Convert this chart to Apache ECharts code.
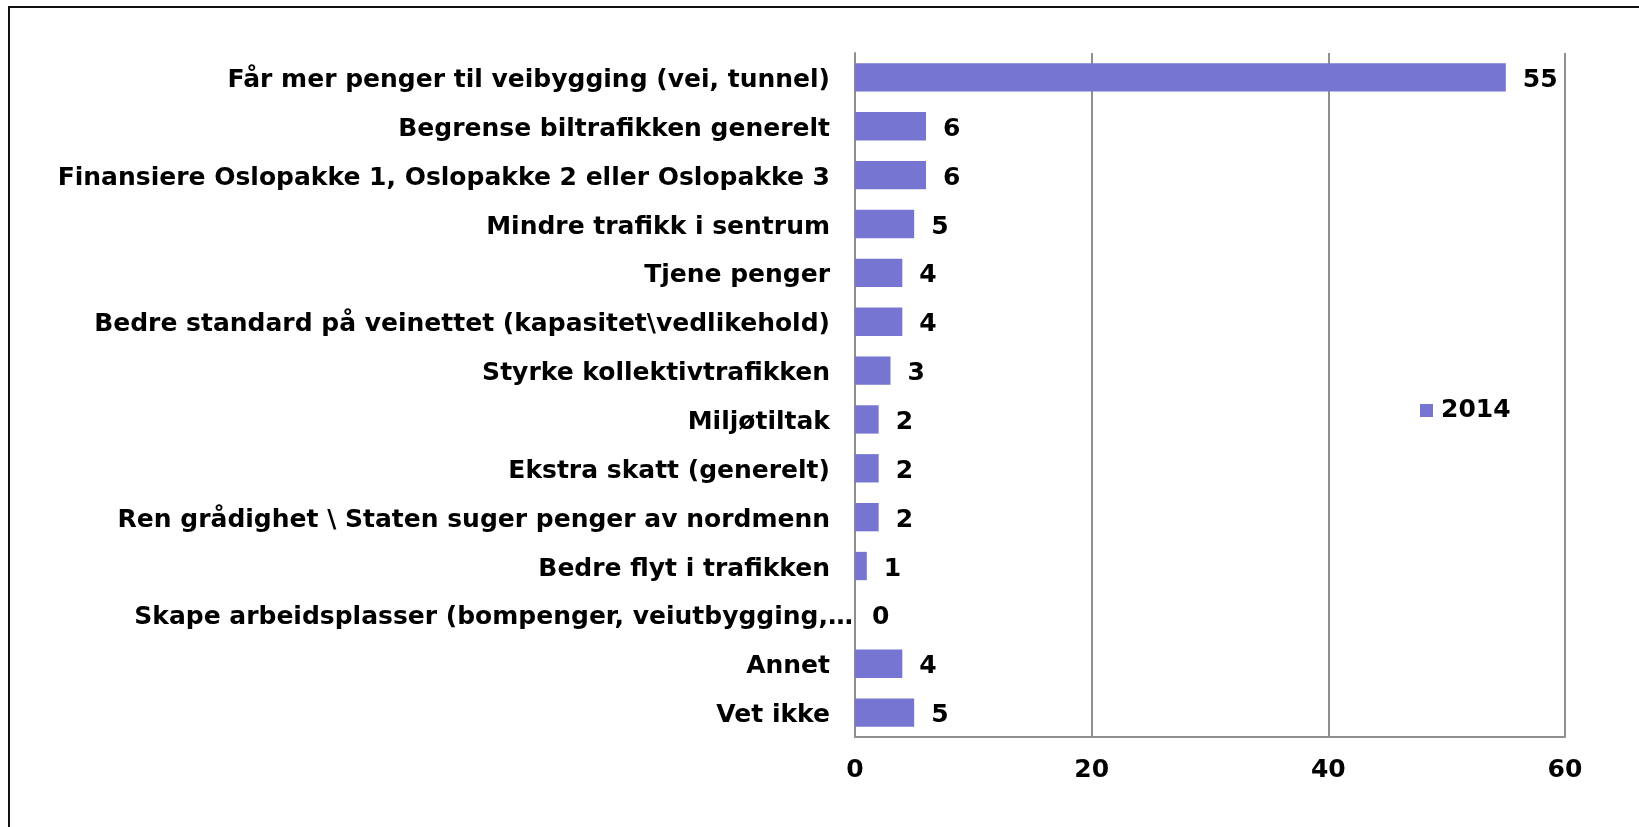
<!DOCTYPE html>
<html>
<head>
<meta charset="utf-8">
<script src="https://cdn.jsdelivr.net/npm/echarts@6/dist/echarts.min.js"></script>
<style>
html,body{margin:0;padding:0;background:#fff;}
#chart{width:1639px;height:827px;}
</style>
</head>
<body>
<div id="chart"></div>
<script>
const categories = [
  "Får mer penger til veibygging (vei, tunnel)",
  "Begrense biltrafikken generelt",
  "Finansiere Oslopakke 1, Oslopakke 2 eller Oslopakke 3",
  "Mindre trafikk i sentrum",
  "Tjene penger",
  "Bedre standard på veinettet (kapasitet\\vedlikehold)",
  "Styrke kollektivtrafikken",
  "Miljøtiltak",
  "Ekstra skatt (generelt)",
  "Ren grådighet \\ Staten suger penger av nordmenn",
  "Bedre flyt i trafikken",
  "Skape arbeidsplasser (bompenger, veiutbygging,…",
  "Annet",
  "Vet ikke"
];
const values2014 = [55, 6, 6, 5, 4, 4, 3, 2, 2, 2, 1, 0, 4, 5];
const seriesName = "2014";
const xTicks = [0, 20, 40, 60];
const truncatedLabel = "Skape arbeidsplasser (bompenger, veiutbygging,…";

const FONT = '"DejaVu Sans", Verdana, sans-serif';
const chart = echarts.init(document.getElementById('chart'));
chart.setOption({
  animation: false,
  backgroundColor: '#ffffff',
  graphic: [{
    type: 'rect',
    shape: { x: 9, y: 7, width: 1700, height: 900 },
    style: { fill: 'none', stroke: '#111', lineWidth: 2 },
    z: 100
  }],
  legend: {
    data: [seriesName],
    left: 1420,
    top: 398,
    padding: 0,
    itemWidth: 13,
    itemHeight: 13,
    itemGap: 0,
    icon: 'rect',
    textStyle: { fontFamily: FONT, fontWeight: 'bold', fontSize: 25, color: '#000', padding: [0, 0, 0, 3] }
  },
  grid: { left: 855, top: 53, right: 74, bottom: 90 },
  xAxis: {
    type: 'value',
    min: xTicks[0],
    max: xTicks[xTicks.length - 1],
    interval: xTicks[1] - xTicks[0],
    axisLine: { show: true, lineStyle: { color: '#8f8f8f', width: 2 } },
    axisTick: { show: false },
    splitLine: { show: true, lineStyle: { color: '#8f8f8f', width: 2 } },
    axisLabel: { fontFamily: FONT, fontWeight: 'bold', fontSize: 25, color: '#000', margin: 21 }
  },
  yAxis: {
    type: 'category',
    data: categories,
    inverse: true,
    axisLine: { show: true, lineStyle: { color: '#8f8f8f', width: 2 } },
    axisTick: { show: false },
    axisLabel: {
      margin: 1,
      interval: 0,
      formatter: function (v) { return v === truncatedLabel ? '{t|' + v + '}' : '{n|' + v + '}'; },
      rich: {
        n: { fontFamily: FONT, fontWeight: 'bold', fontSize: 25, color: '#000', padding: [6, 24, 0, 0] },
        t: { fontFamily: FONT, fontWeight: 'bold', fontSize: 25, color: '#000', padding: [6, 1, 0, 0] }
      }
    }
  },
  series: [{
    name: seriesName,
    type: 'bar',
    data: values2014,
    barCategoryGap: '42%',
    itemStyle: { color: '#7676d2' },
    label: {
      show: true,
      position: 'right',
      distance: 17,
      offset: [0, 3],
      fontFamily: FONT,
      fontWeight: 'bold',
      fontSize: 25,
      color: '#000'
    }
  }]
});
</script>
</body>
</html>
